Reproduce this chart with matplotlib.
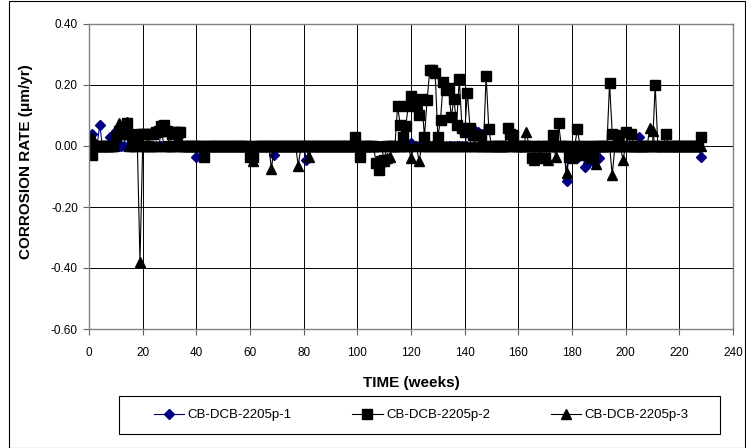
import numpy as np
import matplotlib
matplotlib.use("Agg")
from matplotlib import pyplot as plt
from matplotlib.patches import Rectangle

plt.rcParams['font.family'] = ['Liberation Sans', 'DejaVu Sans']

# semanas medidas (todas las series se registran semana a semana)
semanas = np.arange(0, 229)

# valores distintos de cero; el resto es 0.00
s1_semanas = [1, 4, 8, 10, 14, 18, 33, 40, 69, 81, 120, 141, 142, 143, 144, 145, 146,
              178, 181, 182, 184, 185, 186, 188, 190, 205, 228]
s1_valores = [0.04, 0.07, 0.03, 0.05, 0.08, 0.01, 0.03, -0.035, -0.03, -0.045, 0.01,
              0.05, 0.06, 0.055, 0.05, 0.045, 0.04,
              -0.115, -0.03, -0.04, -0.025, -0.07, -0.055, -0.05, -0.04, 0.03, -0.035]

s2_semanas = [1, 10, 11, 12, 13, 14, 15, 16, 18, 19, 20, 21, 23, 24, 25, 26, 27, 28, 29,
              31, 32, 33, 34, 43, 60, 61, 99, 101, 107, 108, 109, 110,
              115, 116, 117, 118, 119, 120, 121, 122, 123, 124, 125, 126, 127, 128, 129,
              130, 131, 132, 133, 134, 135, 136, 137, 138, 139, 140, 141, 142, 143, 144,
              145, 146, 148, 149, 156, 157, 158, 165, 167, 170, 173, 175, 179, 180, 182,
              184, 186, 188, 194, 195, 197, 200, 202, 211, 215, 228]
s2_valores = [-0.03, 0.03, 0.05, 0.04, 0.06, 0.075, 0.04, 0.03, 0.03, 0.04, 0.04, 0.04,
              0.04, 0.04, 0.045, 0.05, 0.065, 0.07, 0.05,
              0.04, 0.045, 0.045, 0.045, -0.035, -0.035, -0.035, 0.03, -0.035, -0.055, -0.08,
              -0.05, -0.045,
              0.13, 0.07, 0.03, 0.065, 0.13, 0.165, 0.15, 0.13, 0.10, 0.155, 0.03, 0.15,
              0.25, 0.25, 0.24,
              0.03, 0.085, 0.21, 0.185, 0.19, 0.095, 0.155, 0.07, 0.22, 0.06, 0.045, 0.175,
              0.06, 0.035, 0.035,
              0.035, 0.035, 0.23, 0.055, 0.06, 0.04, 0.035, -0.04, -0.04, -0.04, 0.035,
              0.075, -0.035, -0.04, 0.055,
              -0.03, -0.03, -0.035, 0.205, 0.04, 0.035, 0.045, 0.04, 0.20, 0.04, 0.03]

s3_semanas = [1, 10, 11, 12, 13, 14, 18, 19, 27, 33, 61, 68, 78, 82, 110, 111, 112, 120,
              123, 158, 163, 166, 168, 171, 174, 178, 187, 189, 195, 199, 209, 210]
s3_valores = [0.03, 0.04, 0.075, 0.065, 0.05, 0.04, 0.01, -0.38, 0.05, 0.03, -0.05, -0.075,
              -0.065, -0.035, -0.05, -0.04, -0.035, -0.04, -0.05, 0.03, 0.045, -0.045,
              -0.035, -0.045, -0.035, -0.09, -0.04, -0.06, -0.095, -0.045, 0.06, 0.05]

etiquetas = ["CB-DCB-2205p-1", "CB-DCB-2205p-2", "CB-DCB-2205p-3"]


def armarSerie(sem, val):
    serie = np.zeros(len(semanas))
    for s, v in zip(sem, val):
        serie[s] = v
    return serie


serie1 = armarSerie(s1_semanas, s1_valores)
serie2 = armarSerie(s2_semanas, s2_valores)
serie3 = armarSerie(s3_semanas, s3_valores)

fig = plt.figure(figsize=(7.46, 4.48), dpi=100)
ax = fig.add_axes([89/746, 1-329/448, (733-89)/746, (329-24)/448])

ax.plot(semanas, serie1, color='#000080', lw=0.8, marker='D', ms=5.5,
        mec='#000080', mfc='#000080', label=etiquetas[0])
ax.plot(semanas, serie2, color='black', lw=0.8, marker='s', ms=6.5,
        mec='black', mfc='black', label=etiquetas[1])
ax.plot(semanas, serie3, color='black', lw=0.8, marker='^', ms=7,
        mec='black', mfc='black', label=etiquetas[2])

ax.set_xlim(0, 240)
ax.set_ylim(-0.6, 0.4)
ax.set_xticks(np.arange(0, 241, 20))
ax.set_yticks(np.arange(-0.6, 0.41, 0.2))
ax.set_yticklabels(["%.2f" % v for v in np.arange(-0.6, 0.41, 0.2)])
ax.tick_params(direction='out', length=4, width=0.8, color='#606060', labelsize=8.5)
ax.tick_params(axis='x', pad=9)
ax.tick_params(axis='y', pad=4)
ax.grid(color='black', lw=0.7)
ax.set_axisbelow(True)
for lado in ax.spines.values():
    lado.set_color('#808080')
    lado.set_linewidth(1.0)

ax.set_xlabel("TIME (weeks)", fontsize=11, fontweight='bold', labelpad=12)
ax.set_ylabel("CORROSION RATE (\u03bcm/yr)", fontsize=11, fontweight='bold')
ax.yaxis.set_label_coords(-0.087, 0.548)

leg = fig.legend(loc='center', bbox_to_anchor=(421/746, 1-415/448), ncol=3, fontsize=9.5,
                 frameon=False, handlelength=2.3, handletextpad=0.25, columnspacing=4.6)

fig.patches.append(Rectangle((119/746, 1-434/448), 601/746, 38/448, transform=fig.transFigure,
                             fill=False, edgecolor='black', lw=0.8))
fig.patches.append(Rectangle((9/746, 0.5/448), 736/746, 446.5/448, transform=fig.transFigure,
                             fill=False, edgecolor='black', lw=0.8))

plt.savefig("out.png", dpi=100)
